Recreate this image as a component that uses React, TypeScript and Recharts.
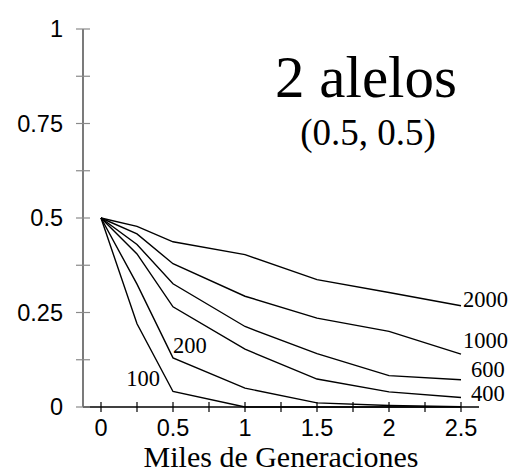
import { LineChart, Line, XAxis, YAxis, LabelList, Label } from 'recharts'

const gens = [0, 0.25, 0.5, 1, 1.5, 2, 2.5]
const n2000 = [0.5, 0.478, 0.437, 0.403, 0.337, 0.303, 0.268]
const n1000 = [0.5, 0.458, 0.379, 0.293, 0.235, 0.2, 0.14]
const n600 = [0.5, 0.43, 0.326, 0.213, 0.141, 0.083, 0.072]
const n400 = [0.5, 0.405, 0.265, 0.153, 0.074, 0.04, 0.025]
const n200 = [0.5, 0.325, 0.13, 0.05, 0.011, 0.004, 0.001]
const n100 = [0.5, 0.22, 0.041, 0, 0, 0, 0]

const xTicks = [0, 0.25, 0.5, 0.75, 1, 1.25, 1.5, 1.75, 2, 2.25, 2.5]
const xLabels = ['0', '', '0.5', '', '1', '', '1.5', '', '2', '', '2.5']
const yTicks = [0, 0.125, 0.25, 0.375, 0.5, 0.625, 0.75, 0.875, 1]
const yLabels = ['0', '', '0.25', '', '0.5', '', '0.75', '', '1']

const rows = gens.map((g, i) => ({
  g, n2000: n2000[i], n1000: n1000[i], n600: n600[i], n400: n400[i], n200: n200[i], n100: n100[i],
}))

// label placement per series: which point, offset and anchor
const series = [
  { key: 'n2000', name: '2000', at: 6, dx: 2, dy: 1, anchor: 'start' },
  { key: 'n1000', name: '1000', at: 6, dx: 2, dy: -6, anchor: 'start' },
  { key: 'n600', name: '600', at: 6, dx: 10, dy: -3, anchor: 'start' },
  { key: 'n400', name: '400', at: 6, dx: 10, dy: 3, anchor: 'start' },
  { key: 'n200', name: '200', at: 2, dx: 0, dy: -5, anchor: 'start' },
  { key: 'n100', name: '100', at: 2, dx: -13, dy: -6, anchor: 'end' },
]

const SANS = '"Liberation Sans", Arial, sans-serif'
const SERIF = '"Liberation Serif", "Times New Roman", serif'

const YTick = (p: any) => {
  const lab = yLabels[yTicks.indexOf(p.payload.value)]
  return (
    <g>
      <line x1={p.x - 7} x2={p.x + 7} y1={p.y} y2={p.y} stroke="#8a8a8a" strokeWidth={1.2} />
      {lab && <text x={p.x - 20} y={p.y} dy="0.36em" textAnchor="end" fontFamily={SANS} fontSize={23.5} fill="#000">{lab}</text>}
    </g>
  )
}

const XTick = (p: any) => {
  const lab = xLabels[xTicks.indexOf(p.payload.value)]
  return (
    <g>
      <line x1={p.x} x2={p.x} y1={p.y - 5} y2={p.y + 5} stroke="#000" strokeWidth={1.2} />
      {lab && <text x={p.x} y={p.y + 29} textAnchor="middle" fontFamily={SANS} fontSize={23.5} fill="#000">{lab}</text>}
    </g>
  )
}

const endLabel = (s: typeof series[number]) => (p: any) => {
  if (p.index !== s.at) return null
  return (
    <text x={p.x + s.dx} y={p.y + s.dy} textAnchor={s.anchor as any} fontFamily={SERIF} fontSize={22.5} fill="#000">{s.name}</text>
  )
}

export default function App() {
  return (
    <div style={{ position: 'absolute', left: 0, top: 0, background: '#fff' }}>
      <LineChart width={513} height={474} data={rows} margin={{ top: 29, right: 34, bottom: 0, left: 23 }}>
        <XAxis dataKey="g" type="number" domain={[-0.125, 2.625]} ticks={xTicks} allowDataOverflow
          height={67} tickSize={0} tickMargin={0} tickLine={false} tick={<XTick />}
          axisLine={{ stroke: '#000', strokeWidth: 1.3 }} interval={0}>
          <Label content={(p: any) => (
            <text x={p.viewBox.x + p.viewBox.width / 2} y={p.viewBox.y + 60} textAnchor="middle"
              fontFamily={SERIF} fontSize={30} fill="#000">Miles de Generaciones</text>
          )} />
        </XAxis>
        <YAxis type="number" domain={[0, 1]} ticks={yTicks} width={60} interval={0}
          tickSize={0} tickMargin={0} tickLine={false} tick={<YTick />}
          axisLine={{ stroke: '#333', strokeWidth: 1.3 }} />
        {series.map(s => (
          <Line key={s.key} type="linear" dataKey={s.key} stroke="#000" strokeWidth={1.4} dot={false}
            isAnimationActive={false}>
            <LabelList dataKey={s.key} content={endLabel(s)} />
          </Line>
        ))}
        <text x={366} y={97} textAnchor="middle" fontFamily={SERIF} fontSize={59} fill="#000">2 alelos</text>
        <text x={368} y={145} textAnchor="middle" fontFamily={SERIF} fontSize={37} fill="#000">(0.5, 0.5)</text>
      </LineChart>
    </div>
  )
}
